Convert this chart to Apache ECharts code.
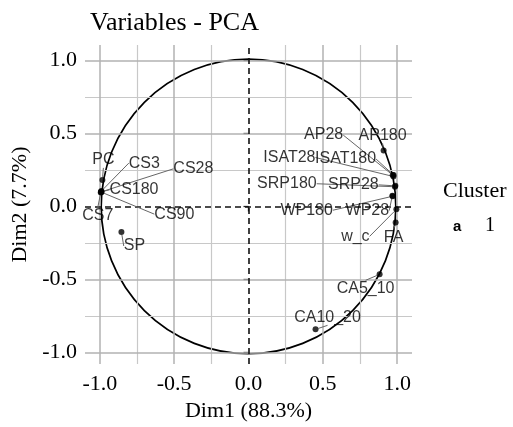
<!DOCTYPE html>
<html>
<head>
    <meta charset="utf-8">
    <title>Variables - PCA</title>
    <script src="https://cdn.jsdelivr.net/npm/echarts@6/dist/echarts.min.js"></script>
    <style>
        html, body { margin: 0; padding: 0; background: #fff; }
        #chart1 { width: 513px; height: 427px; }
    </style>
</head>
<body>
<div id="chart1"></div>
<script>
    // variables and their coordinates (Dim1, Dim2)
    var varNames = ['PC', 'CS3', 'CS28', 'CS180', 'CS7', 'CS90', 'SP',
        'AP28', 'AP180', 'ISAT28', 'ISAT180', 'SRP180', 'SRP28', 'WP180', 'WP28',
        'w_c', 'FA', 'CA5_10', 'CA10_20'];
    var dim1 = [-0.983, -0.99, -0.99, -0.992, -0.994, -0.99, -0.855,
        0.970, 0.909, 0.975, 0.976, 0.985, 0.988, 0.970, 0.968,
        0.995, 0.990, 0.882, 0.451];
    var dim2 = [0.182, 0.105, 0.100, 0.100, 0.095, 0.098, -0.175,
        0.215, 0.384, 0.205, 0.215, 0.135, 0.141, 0.070, 0.074,
        -0.020, -0.110, -0.465, -0.842];
    var xTicks = [-1.0, -0.5, 0.0, 0.5, 1.0];
    var yTicks = [-1.0, -0.5, 0.0, 0.5, 1.0];
    var minorTicks = [-0.75, -0.25, 0.25, 0.75];
    var clusterNames = ['1'];
    var circleRadius = 1;

    // label offsets from the point, in px (like ggrepel placed them)
    var labelShift = {
        'PC': [1, -20], 'CS3': [43, -28], 'CS28': [92, -23], 'CS180': [33, -2],
        'CS7': [-3, 23], 'CS90': [73, 22], 'SP': [13, 14],
        'AP28': [-69, -40], 'AP180': [-1, -15], 'ISAT28': [-104, -19], 'ISAT180': [-48, -16],
        'SRP180': [-108, -3], 'SRP28': [-42, -1], 'WP180': [-86, 14], 'WP28': [-25, 15],
        'w_c': [-41, 27], 'FA': [-2, 15], 'CA5_10': [-14, 14], 'CA10_20': [12, -12]
    };

    var serif = '"Liberation Serif", "DejaVu Serif", serif';
    var sans = '"Liberation Sans", Arial, sans-serif';

    var points = varNames.map(function (n, i) { return { name: n, value: [dim1[i], dim2[i]] }; });

    function vLines(vals) { return vals.map(function (v) { return { xAxis: v }; }); }
    function hLines(vals) { return vals.map(function (v) { return { yAxis: v }; }); }

    var chart = echarts.init(document.getElementById('chart1'), null, { renderer: 'canvas' });
    chart.setOption({
        animation: false,
        backgroundColor: '#fff',
        title: {
            text: 'Variables - PCA',
            left: 85, top: 5,
            textStyle: { fontFamily: serif, fontSize: 26, fontWeight: 'normal', color: '#000' }
        },
        grid: { left: 85, right: 101, top: 45, bottom: 57 },
        xAxis: {
            type: 'value', min: -1.1, max: 1.1,
            name: 'Dim1 (88.3%)', nameLocation: 'middle', nameGap: 29,
            nameTextStyle: { fontFamily: serif, fontSize: 22, color: '#000' },
            axisLine: { show: false },
            axisTick: { show: true, customValues: xTicks, length: 5, lineStyle: { color: '#222', width: 1.3 } },
            axisLabel: {
                customValues: xTicks, margin: 9,
                fontFamily: serif, fontSize: 22, color: '#000',
                formatter: function (v) { return v.toFixed(1); }
            },
            splitLine: { show: false }
        },
        yAxis: {
            type: 'value', min: -1.08, max: 1.106,
            name: 'Dim2 (7.7%)', nameLocation: 'middle', nameGap: 50, nameRotate: 90,
            nameTextStyle: { fontFamily: serif, fontSize: 22, color: '#000' },
            axisLine: { show: false },
            axisTick: { show: true, customValues: yTicks, length: 5, lineStyle: { color: '#222', width: 1.3 } },
            axisLabel: {
                customValues: yTicks, margin: 8,
                fontFamily: serif, fontSize: 22, color: '#000',
                formatter: function (v) { return v.toFixed(1); }
            },
            splitLine: { show: false }
        },
        graphic: [
            { type: 'text', left: 443, top: 180, style: { text: 'Cluster', font: '22px ' + serif, fill: '#000' } },
            { type: 'text', left: 453, top: 219, style: { text: 'a', font: 'bold 15px ' + sans, fill: '#000' } },
            { type: 'text', left: 485, top: 216, style: { text: clusterNames[0], font: '20px ' + serif, fill: '#000' } }
        ],
        series: [
            {
                // background grid
                type: 'scatter', data: [], silent: true, z: 0,
                markLine: {
                    silent: true, symbol: 'none', label: { show: false },
                    lineStyle: { color: '#c8c8c8', width: 1.2, type: 'solid' },
                    data: vLines(minorTicks).concat(hLines(minorTicks))
                }
            },
            {
                type: 'scatter', data: [], silent: true, z: 1,
                markLine: {
                    silent: true, symbol: 'none', label: { show: false },
                    lineStyle: { color: '#b2b2b2', width: 1.5, type: 'solid' },
                    data: vLines(xTicks.filter(function (v) { return v !== 0; }))
                        .concat(hLines(yTicks.filter(function (v) { return v !== 0; })))
                }
            },
            {
                // dashed zero lines
                type: 'scatter', data: [], silent: true, z: 2,
                markLine: {
                    silent: true, symbol: 'none', label: { show: false },
                    lineStyle: { color: '#111', width: 1.6, type: [6, 4] },
                    data: [{ xAxis: 0 }, { yAxis: 0 }]
                }
            },
            {
                // correlation circle
                type: 'custom', silent: true, z: 3,
                data: [[0, 0]],
                renderItem: function (params, api) {
                    var c = api.coord([0, 0]);
                    var r = api.size([circleRadius, circleRadius]);
                    return {
                        type: 'circle',
                        shape: { cx: c[0], cy: c[1], r: (r[0] + r[1]) / 2 },
                        style: { fill: 'none', stroke: '#000', lineWidth: 1.7 }
                    };
                }
            },
            {
                type: 'scatter', z: 5,
                data: points,
                symbol: 'circle', symbolSize: 6,
                itemStyle: { color: '#000' },
                label: {
                    show: true, position: 'inside',
                    formatter: '{b}',
                    fontFamily: sans, fontSize: 16, color: '#000'
                },
                labelLine: { show: true, lineStyle: { color: '#666', width: 1 } },
                labelLayout: function (p) {
                    var s = labelShift[varNames[p.dataIndex]];
                    return { dx: s[0], dy: s[1] };
                }
            }
        ]
    });
</script>
</body>
</html>
